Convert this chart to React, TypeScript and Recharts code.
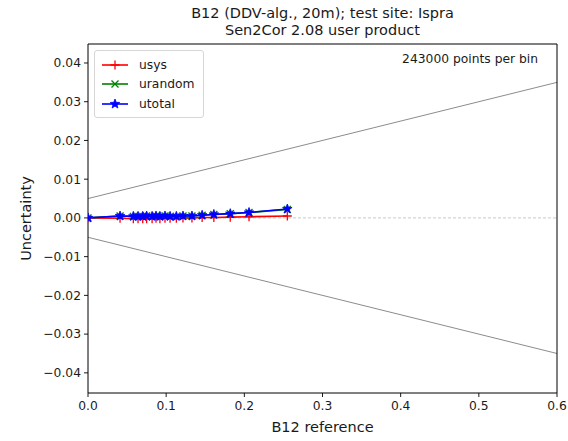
import React from "react";
import { ComposedChart, Line, XAxis, YAxis, ReferenceLine } from "recharts";

// B12 reference reflectance (bin centres)
const refX = [0, 0.041, 0.058, 0.064, 0.07, 0.075, 0.082, 0.087, 0.092, 0.0985, 0.105, 0.113, 0.1215, 0.133, 0.146, 0.161, 0.182, 0.206, 0.255];
const usys = [0, -0.0001, -0.0002, -0.0002, -0.0002, -0.0002, -0.0002, -0.0001, -0.0002, -0.0001, -0.0001, -0.0001, 0, 0, 0.0001, 0.0001, 0.0002, 0.0003, 0.0005];
const urandom = [0, 0.0005, 0.0004, 0.0004, 0.0004, 0.0005, 0.0004, 0.0005, 0.0004, 0.0005, 0.0004, 0.0004, 0.0005, 0.0005, 0.0007, 0.0009, 0.0011, 0.0014, 0.0022];
const utotal = [0, 0.0005, 0.0004, 0.0004, 0.0004, 0.0005, 0.0004, 0.0005, 0.0004, 0.0005, 0.0004, 0.0004, 0.0005, 0.0005, 0.0007, 0.0009, 0.0011, 0.0014, 0.0023];

// specification envelope
const boundX = [0, 0.6];
const upperBound = [0.005, 0.035];
const lowerBound = [-0.005, -0.035];

const xTicks = [0, 0.1, 0.2, 0.3, 0.4, 0.5, 0.6];
const yTicks = [-0.04, -0.03, -0.02, -0.01, 0, 0.01, 0.02, 0.03, 0.04];
const xDomain = [0, 0.6];
const yDomain = [-0.0452, 0.0449];

const data = refX.map((x, i) => ({ x, usys: usys[i], urandom: urandom[i], utotal: utotal[i] }));
const upperData = boundX.map((x, i) => ({ x, y: upperBound[i] }));
const lowerData = boundX.map((x, i) => ({ x, y: lowerBound[i] }));

const FONT = "'DejaVu Sans', sans-serif";
const TEXT = "#1a1a1a";

const fmtY = (v: number) => v.toFixed(2).replace("-", "\u2212");

const PlusMark = ({ cx, cy, color }: { cx: number; cy: number; color: string }) => (
  <path d={`M${cx - 4.5},${cy}H${cx + 4.5}M${cx},${cy - 4.5}V${cy + 4.5}`} stroke={color} strokeWidth={1.3} fill="none" />
);

const XMark = ({ cx, cy, color }: { cx: number; cy: number; color: string }) => (
  <path d={`M${cx - 3.5},${cy - 3.5}L${cx + 3.5},${cy + 3.5}M${cx - 3.5},${cy + 3.5}L${cx + 3.5},${cy - 3.5}`} stroke={color} strokeWidth={1.3} fill="none" />
);

const starPath = (cx: number, cy: number, r: number) => {
  const pts: string[] = [];
  for (let k = 0; k < 10; k++) {
    const rad = k % 2 === 0 ? r : r * 0.42;
    const a = -Math.PI / 2 + (k * Math.PI) / 5;
    pts.push(`${(cx + rad * Math.cos(a)).toFixed(2)},${(cy + rad * Math.sin(a)).toFixed(2)}`);
  }
  return `M${pts.join("L")}Z`;
};

const StarMark = ({ cx, cy, color }: { cx: number; cy: number; color: string }) => (
  <path d={starPath(cx, cy, 5)} fill={color} stroke={color} strokeWidth={0.8} />
);

const series = [
  { key: "usys", color: "#ff0000", Mark: PlusMark },
  { key: "urandom", color: "#008000", Mark: XMark },
  { key: "utotal", color: "#0000ff", Mark: StarMark },
];

const LegendBox = () => (
  <div
    style={{
      position: "absolute",
      left: 94,
      top: 50,
      padding: "4px 8px 3px 6px",
      border: "1px solid #d6d6d6",
      borderRadius: 3,
      background: "rgba(255,255,255,0.8)",
      fontFamily: FONT,
      fontSize: 12.3,
      color: TEXT,
    }}
  >
    {series.map(({ key, color, Mark }) => (
      <div key={key} style={{ display: "flex", alignItems: "center", height: 19.5 }}>
        <svg width={28} height={12} style={{ marginRight: 10 }}>
          <line x1={1} y1={6} x2={27} y2={6} stroke={color} strokeWidth={1.6} />
          <Mark cx={14} cy={6} color={color} />
        </svg>
        <span>{key}</span>
      </div>
    ))}
  </div>
);

export default function App() {
  return (
    <div style={{ position: "absolute", left: 0, top: 0, width: 568, height: 441, background: "#fff" }}>
      <div
        style={{
          position: "absolute",
          left: 88,
          width: 469,
          top: 5,
          textAlign: "center",
          fontFamily: FONT,
          fontSize: 14.5,
          lineHeight: "16.5px",
          color: TEXT,
        }}
      >
        <div>B12 (DDV-alg., 20m); test site: Ispra</div>
        <div>Sen2Cor 2.08 user product</div>
      </div>
      <ComposedChart width={568} height={441} data={data} margin={{ top: 44, right: 11, bottom: 6, left: 18 }}>
        <XAxis
          dataKey="x"
          type="number"
          domain={xDomain}
          ticks={xTicks}
          tickFormatter={(v: number) => v.toFixed(1)}
          allowDataOverflow
          height={42}
          tickSize={4}
          tickMargin={4}
          axisLine={{ stroke: "#000", strokeWidth: 1 }}
          tickLine={{ stroke: "#000", strokeWidth: 0.9 }}
          tick={{ fill: TEXT, fontSize: 12.3, fontFamily: FONT }}
          label={{ value: "B12 reference", position: "insideBottom", offset: 3, fill: TEXT, fontSize: 14.5, fontFamily: FONT }}
        />
        <YAxis
          type="number"
          domain={yDomain}
          ticks={yTicks}
          tickFormatter={fmtY}
          allowDataOverflow
          width={70}
          tickSize={4}
          tickMargin={3}
          axisLine={{ stroke: "#000", strokeWidth: 1 }}
          tickLine={{ stroke: "#000", strokeWidth: 0.9 }}
          tick={{ fill: TEXT, fontSize: 12.3, fontFamily: FONT }}
          label={{ value: "Uncertainty", angle: -90, position: "insideLeft", offset: 8, fill: TEXT, fontSize: 14.5, fontFamily: FONT, style: { textAnchor: "middle" } }}
        />
        <ReferenceLine y={0} stroke="#bdbdbd" strokeWidth={0.8} strokeDasharray="3 2" />
        <Line data={upperData} dataKey="y" stroke="#7f7f7f" strokeWidth={0.9} dot={false} isAnimationActive={false} legendType="none" />
        <Line data={lowerData} dataKey="y" stroke="#7f7f7f" strokeWidth={0.9} dot={false} isAnimationActive={false} legendType="none" />
        {series.map(({ key, color, Mark }) => (
          <Line
            key={key}
            dataKey={key}
            stroke={color}
            strokeWidth={1.6}
            isAnimationActive={false}
            dot={(p: any) => <Mark key={`${key}-${p.index}`} cx={p.cx} cy={p.cy} color={color} />}
          />
        ))}
        {/* top and right frame */}
        <ReferenceLine y={yDomain[1]} stroke="#000" strokeWidth={1} />
        <ReferenceLine x={xDomain[1]} stroke="#000" strokeWidth={1} />
      </ComposedChart>
      <LegendBox />
      <div
        style={{
          position: "absolute",
          right: 30,
          top: 52,
          fontFamily: FONT,
          fontSize: 12.3,
          color: TEXT,
        }}
      >
        243000 points per bin
      </div>
    </div>
  );
}
